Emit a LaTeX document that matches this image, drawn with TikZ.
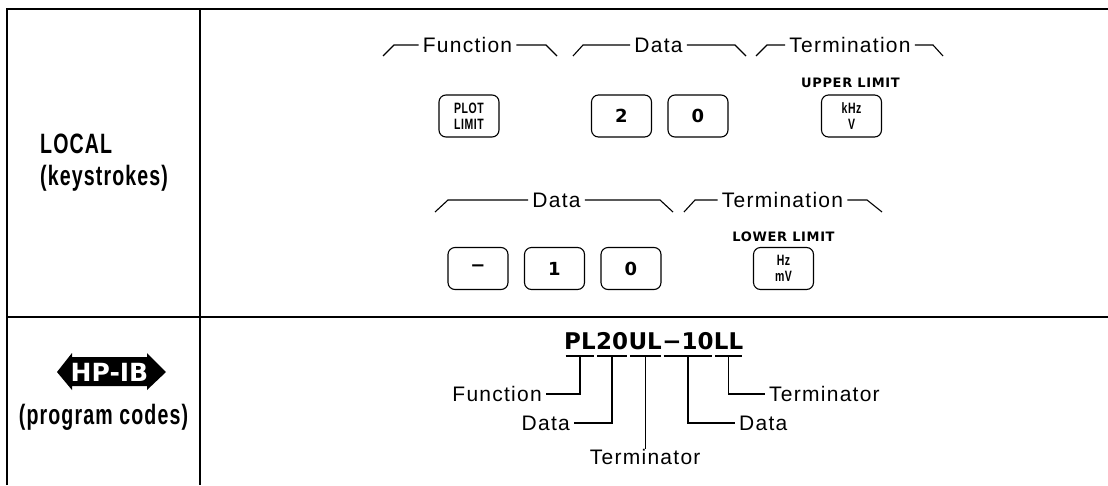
\documentclass[tikz,border=0pt]{standalone}
\usepackage{fontspec}
\setmainfont{Liberation Sans}
\newfontfamily\tagfont[LetterSpace=6]{Liberation Sans}
\newfontfamily\condfont[FakeStretch=0.7,LetterSpace=4]{Liberation Sans}
\newfontfamily\capfont[LetterSpace=5]{DejaVu Sans}
\newfontfamily\codefont{DejaVu Sans}
\usetikzlibrary{calc,positioning}

\tikzset{
  rule/.style={line width=1.4pt},
  head/.style={font=\condfont\bfseries\fontsize{28}{32}\selectfont, inner sep=0pt},
  tag/.style={font=\tagfont\fontsize{21}{25}\selectfont, inner xsep=4pt, inner ysep=0pt},
  brace/.style={line width=1.1pt},
  keycap/.style={draw, line width=1.1pt, rounded corners=7pt, minimum width=60pt,
    minimum height=42pt, inner sep=0pt, align=center},
  digit/.style={keycap, font=\codefont\bfseries\fontsize{18}{20}\selectfont},
  unitkey/.style={keycap, font=\condfont\bfseries\fontsize{15}{16}\selectfont},
  keyname/.style={font=\capfont\bfseries\fontsize{13}{15}\selectfont, inner sep=0pt},
  code/.style={font=\codefont\bfseries\fontsize{23}{26}\selectfont, inner sep=0pt, anchor=base west},
  uline/.style={line width=1.8pt},
  leader/.style={line width=1.3pt},
}

\begin{document}
\begin{tikzpicture}[x=1pt,y=-1pt]
    \useasboundingbox (0,0) rectangle (1108,485);

    % table rules
    \draw[rule] (7,485) -- (7,9) -- (1108,9);
    \draw[rule] (200,9) -- (200,485);
    \draw[rule] (7,317) -- (1108,317);

    % row headings
    \node[head, anchor=base west] (local) at (40,153) {LOCAL};
    \node[head, anchor=base west] (keys) at (40,185) {(keystrokes)};
    \fill (57,372) -- (72,353) -- (72,357) -- (147,357) -- (147,353) -- (166,372)
          -- (147,390) -- (147,386) -- (72,386) -- (72,390) -- cycle;
    \node[font=\codefont\bfseries\fontsize{25}{28}\selectfont, text=white, inner sep=0pt]
          (hpib) at (109.5,372) {HP-IB};
    \node[head, anchor=base] (codes) at (103.5,424) {(program codes)};

    % upper keystroke line
    \node[tag] (fn) at (467.5,45) {Function};
    \node[tag] (da) at (658.5,45) {Data};
    \node[tag] (ta) at (850,45) {Termination};
    \draw[brace] (383,56) -- (394,45) -- (fn.west);
    \draw[brace] (fn.east) -- (546,45) -- (557,56);
    \draw[brace] (573,56) -- (583,45) -- (da.west);
    \draw[brace] (da.east) -- (735,45) -- (746,56);
    \draw[brace] (756,56) -- (767,45) -- (ta.west);
    \draw[brace] (ta.east) -- (933,45) -- (943,56);

    \node[unitkey] (plot) at (469,116) {PLOT\\LIMIT};
    \node[digit] (k2) at (621.5,116) {2};
    \node[digit] (k0a) at (698,116) {0};
    \node[unitkey] (khz) at (851.5,116) {kHz\\V};
    \node[keyname] (upper) at (850.5,83) {UPPER LIMIT};

    % lower keystroke line
    \node[tag] (db) at (556.5,200) {Data};
    \node[tag] (tb) at (782.5,200) {Termination};
    \draw[brace] (435,212) -- (448,200) -- (db.west);
    \draw[brace] (db.east) -- (660,200) -- (673,212);
    \draw[brace] (684,212) -- (695,200) -- (tb.west);
    \draw[brace] (tb.east) -- (867,200) -- (882,212);

    \node[digit] (kminus) at (478,268.5) {−};
    \node[digit] (k1) at (554.5,268.5) {1};
    \node[digit] (k0b) at (631,268.5) {0};
    \node[unitkey] (hz) at (783.5,268.5) {Hz\\mV};
    \node[keyname] (lower) at (783.5,237) {LOWER LIMIT};

    % program code string
    \node[code] (cPL) at (564,349) {PL};
    \node[code] (c20) at (cPL.base east) {20};
    \node[code] (cUL) at (c20.base east) {UL};
    \node[code] (c10) at (cUL.base east) {−10};
    \node[code] (cLL) at (c10.base east) {LL};
    \foreach \g in {cPL,c20,cUL,c10,cLL}
        \draw[uline] ($(\g.base west)+(1.5,7)$) -- ($(\g.base east)+(-1.5,7)$);

    \node[tag, anchor=east] (lfn) at (546,394) {Function};
    \node[tag, anchor=east] (lda) at (574,423) {Data};
    \node[tag, anchor=north] (lta) at ($(cUL.base)+(0,100)$) {Terminator};
    \node[tag, anchor=west] (ldb) at (735,423) {Data};
    \node[tag, anchor=west] (ltb) at (765,394) {Terminator};

    \draw[leader] ($(cPL.base)+(0,7)$) |- (lfn.east);
    \draw[leader] ($(c20.base)+(0,7)$) |- (lda.east);
    \draw[leader] ($(cUL.base)+(0,7)$) -- (lta.north);
    \draw[leader] ($(c10.base)+(0,7)$) |- (ldb.west);
    \draw[leader] ($(cLL.base)+(0,7)$) |- (ltb.west);
\end{tikzpicture}
\end{document}
